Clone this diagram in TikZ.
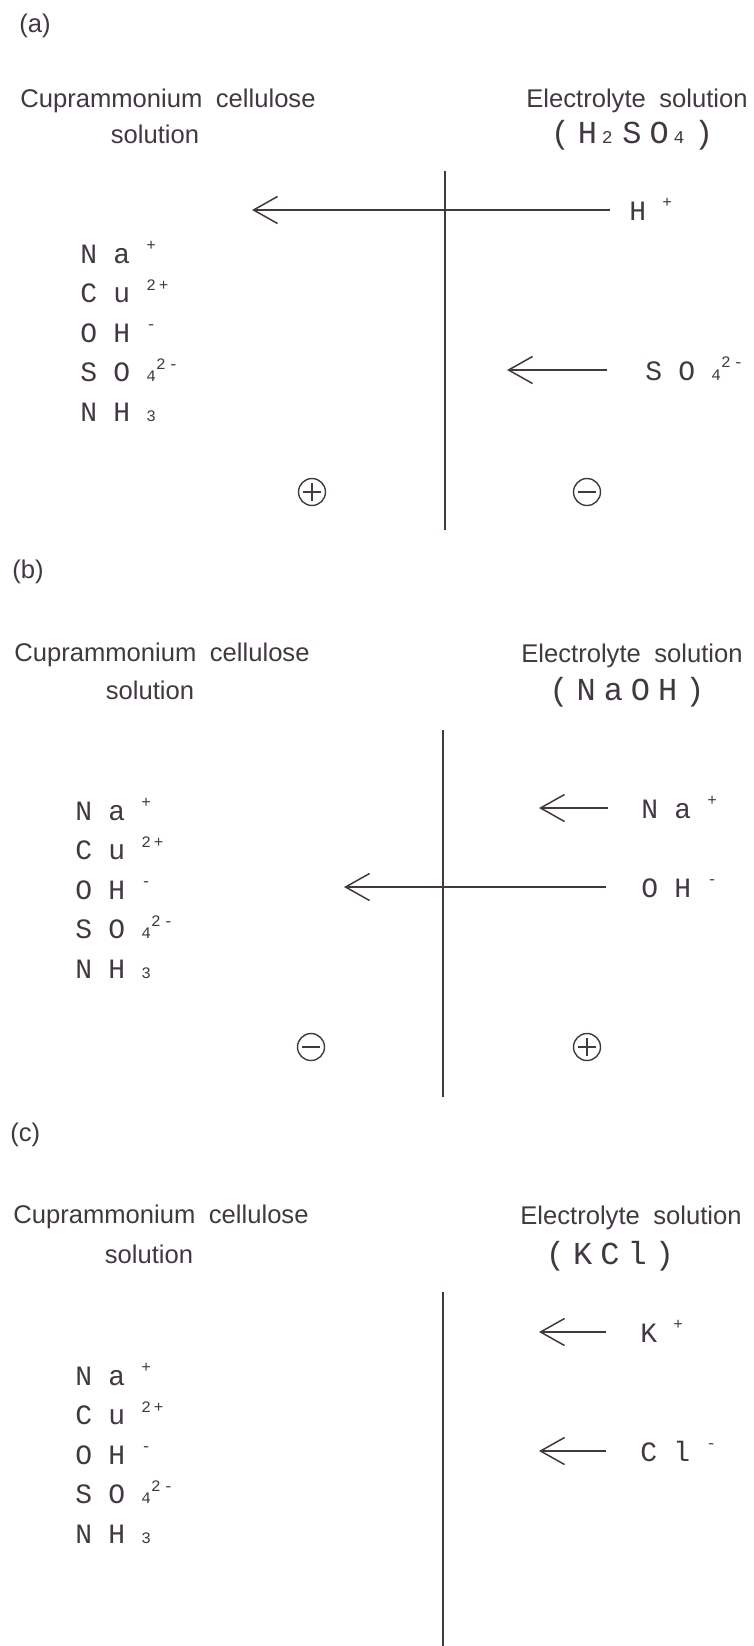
\documentclass[tikz,border=0pt]{standalone}
\usepackage{fontspec}
\setmainfont{Liberation Sans}
\newfontfamily\ionfont[LetterSpace=58]{Liberation Mono}
\newfontfamily\formfont[LetterSpace=25]{Liberation Mono}
\newfontfamily\smallfont[LetterSpace=18]{Liberation Mono}
\usetikzlibrary{arrows.meta,positioning}
\definecolor{ink}{RGB}{66,56,66}
\newcommand{\ionup}[2][0.58em]{\hspace{#1}\raisebox{6.2pt}{\smallfont\fontsize{8}{8}\selectfont #2}}
\newcommand{\iondn}[1]{\hspace{0.58em}{\smallfont\fontsize{8}{8}\selectfont #1}}
\newcommand{\formdn}[1]{\hspace{0.15em}{\fontsize{9}{9}\selectfont #1}\hspace{0.3em}}

\begin{document}
\begin{tikzpicture}[
    x=0.5pt, y=-0.5pt, color=ink, text=ink,
    hdr/.style={font=\fontsize{12.8}{14}\selectfont, inner sep=0pt, anchor=base},
    ion/.style={font=\ionfont\fontsize{14}{15}\selectfont, inner sep=0pt, text height=10pt, text depth=0pt, anchor=west},
    form/.style={font=\formfont\fontsize{16}{18}\selectfont, inner sep=0pt, anchor=base},
    arr/.style={-{Straight Barb[length=12pt,width=13.5pt]}, line width=0.75pt},
    wall/.style={line width=1.1pt},
    pole/.style={circle, draw, line width=0.7pt, minimum size=13.5pt, inner sep=0pt},
    posp/.style={pole, path picture={
        \draw[line width=0.7pt] ([xshift=-4.3pt]path picture bounding box.center) -- ([xshift=4.3pt]path picture bounding box.center)
            ([yshift=-4.3pt]path picture bounding box.center) -- ([yshift=4.3pt]path picture bounding box.center);}},
    negp/.style={pole, path picture={
        \draw[line width=0.7pt] ([xshift=-4.3pt]path picture bounding box.center) -- ([xshift=4.3pt]path picture bounding box.center);}}
]
    \useasboundingbox (0,0) rectangle (754,1646);

    % ions held in the cuprammonium solution (same list in every panel)
    \foreach \p/\x/\y in {a/80/253, b/75/810, c/75/1375} {
        \foreach \t [count=\i from 0] in {Na\ionup{+}, Cu\ionup{2+}, OH\ionup{-}, SO\iondn{4}\ionup[0pt]{2-}, NH\iondn{3}} {
            \node[ion] (i\p\i) at (\x,\y+39.5*\i) {\t};
        }
    }

    % (a) H2SO4
    \node[hdr, anchor=west] (la) at (19,26) {(a)};
    \node[hdr] (ca) at (168,107) {Cuprammonium\hspace{0.25em} cellulose};
    \node[hdr] (sa) at (155,143) {solution};
    \node[hdr] (ea) at (637,107) {Electrolyte\hspace{0.25em} solution};
    \node[form] (fa) at (632,143) {(H\formdn{2}SO\formdn{4})};
    \draw[wall] (445,171) -- (445,530);
    \node[ion] (ha) at (629,210) {H\ionup{+}};
    \coordinate (hta) at (252,210);
    \draw[arr, shorten <=9.5pt] (ha.west) -- (hta);
    \node[ion] (sra) at (645,370) {SO\iondn{4}\ionup[0pt]{2-}};
    \coordinate (sta) at (507,370);
    \draw[arr, shorten <=19pt] (sra.west) -- (sta);
    \node[posp] (pa) at (312,492) {};
    \node[negp] (na) at (587,492) {};

    % (b) NaOH
    \node[hdr, anchor=west] (lb) at (12,572) {(b)};
    \node[hdr] (cb) at (162,661) {Cuprammonium\hspace{0.25em} cellulose};
    \node[hdr] (sb) at (150,699) {solution};
    \node[hdr] (eb) at (632,662) {Electrolyte\hspace{0.25em} solution};
    \node[form] (fb) at (627,700) {(NaOH)};
    \draw[wall] (443,730) -- (443,1097);
    \node[ion] (nab) at (641,808) {Na\ionup{+}};
    \coordinate (ntb) at (539,808);
    \draw[arr, shorten <=16.5pt] (nab.west) -- (ntb);
    \node[ion] (ohb) at (641,887) {OH\ionup{-}};
    \coordinate (otb) at (344,887);
    \draw[arr, shorten <=17.5pt] (ohb.west) -- (otb);
    \node[negp] (nb) at (311,1047) {};
    \node[posp] (pb) at (587,1047) {};

    % (c) KCl
    \node[hdr, anchor=west] (lc) at (10,1135) {(c)};
    \node[hdr] (cc) at (161,1223) {Cuprammonium\hspace{0.25em} cellulose};
    \node[hdr] (sc) at (149,1263) {solution};
    \node[hdr] (ec) at (631,1224) {Electrolyte\hspace{0.25em} solution};
    \node[form] (fc) at (610,1264) {(KCl)};
    \draw[wall] (443,1292) -- (443,1646);
    \node[ion] (kc) at (640,1332) {K\ionup{+}};
    \coordinate (ktc) at (539,1332);
    \draw[arr, shorten <=17pt] (kc.west) -- (ktc);
    \node[ion] (clc) at (640,1451) {Cl\ionup{-}};
    \coordinate (ctc) at (539,1451);
    \draw[arr, shorten <=17pt] (clc.west) -- (ctc);
\end{tikzpicture}
\end{document}
